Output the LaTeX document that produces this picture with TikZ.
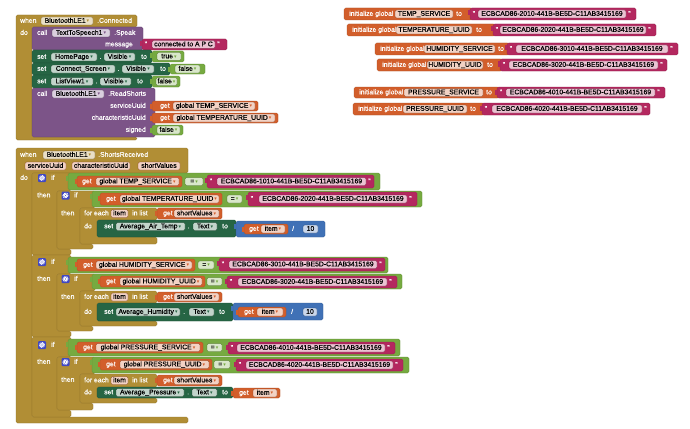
\documentclass[tikz,border=0pt]{standalone}
\usepackage{fontspec}
\setmainfont{Liberation Sans}
\newfontfamily\blkfam[AutoFakeBold=0.45]{Liberation Sans}
\newfontfamily\symfont{DejaVu Sans}

\definecolor{ctrl}{RGB}{177,142,53}
\definecolor{proc}{RGB}{124,84,136}
\definecolor{setc}{RGB}{38,101,68}
\definecolor{logic}{RGB}{118,170,64}
\definecolor{var}{RGB}{210,94,43}
\definecolor{txt}{RGB}{180,40,95}
\definecolor{mth}{RGB}{64,113,182}
\definecolor{gearbg}{RGB}{64,72,196}

\newcommand\blkfont{\blkfam\bfseries\fontsize{6.8}{7}\selectfont}
\newcounter{lblno}
\newcounter{fldno}

\tikzset{
  blk/.style={fill=#1, draw=#1!80!black, line width=.3pt, rounded corners=1.5pt},
  lbl/.style={text=white, anchor=west, inner sep=0pt, font=\blkfont, text height=4.9pt, text depth=1.3pt},
  fld/.style={fill=#1!28!white, draw=#1!60!black, line width=.3pt, rounded corners=1.5pt,
    inner sep=0pt, minimum height=8pt, text=black, font=\blkfont, text height=4.9pt, text depth=1.3pt},
}

% blocks: colour, x1, y1, x2, y2 (pixels, y down)
\newcommand\blk[5]{\path[blk=#1] (#2,#3) rectangle (#4,#5);}
\newcommand\vblk[5]{\path[blk=#1] (#2,#3) rectangle (#4,#5);
  \fill[#1] ({#2-2.2},{#3+2.5}) rectangle ({#2+0.3},{#3+7.5});}
% C-shaped block: x0, ytop, xhead, yhead, xcol, ybar, ybot, xbar
\newcommand\cshape[8]{\path[blk=ctrl] (#1,#2) -- (#3,#2) -- (#3,#4) -- (#5,#4)
  -- (#5,#6) -- (#8,#6) -- (#8,#7) -- (#1,#7) -- cycle;}
% texts
\newcommand\lbl[3]{\stepcounter{lblno}\node[lbl] (lbl\arabic{lblno}) at ({#1},{#2}) {#3};}
\newcommand\rlbl[3]{\stepcounter{lblno}\node[lbl, anchor=east] (lbl\arabic{lblno}) at ({#1},{#2}) {#3};}
% fields: colour, x1, x2, y, text
\newcommand\fld[5]{\stepcounter{fldno}\node[fld=#1, minimum width={(#3-#2)*1pt}]
  (fld\arabic{fldno}) at ({(#2+#3)/2},{#4}) {#5};}
\newcommand\ddf[5]{\fld{#1}{#2}{#3}{#4}{#5\,{\color{#1}\symfont\fontsize{5}{5}\selectfont ▾}}}
% text block: x1, x2, y1, y2, field x1, field x2, text
\newcommand\strb[7]{\vblk{txt}{#1}{#3}{#2}{#4}
  \lbl{#1+2.5}{(#3+#4)/2}{"}
  \fld{txt}{#5}{#6}{(#3+#4)/2}{#7}
  \lbl{#6+2}{(#3+#4)/2}{"}}
% mutator gear
\newcommand\gear[2]{\fill[gearbg, rounded corners=1pt] ({#1-4},{#2-4}) rectangle ({#1+4},{#2+4});
  \draw[white, line width=1.3pt, dash pattern=on .7pt off .7pt] (#1,#2) circle (2.3pt);
  \draw[white, line width=.8pt] (#1,#2) circle (1.5pt);}

\begin{document}
\begin{tikzpicture}[x=1pt, y=-1pt]
  \fill[white] (0,0) rectangle (690,428);
  \useasboundingbox (0,0) rectangle (690,428);

  % --- when BluetoothLE1.Connected ---
  \cshape{16}{15}{137}{27}{32}{137}{140}{137}
  \lbl{20}{21}{when} \ddf{ctrl}{41}{93}{21}{BluetoothLE1} \lbl{97}{21}{.Connected}
  \lbl{20}{33}{do}
  \blk{proc}{32}{27}{143}{50}
  \lbl{37}{33}{call} \ddf{proc}{52}{110}{33}{TextToSpeech1} \lbl{114}{33}{.Speak}
  \rlbl{133}{44.5}{message}
  \strb{142}{227}{39}{50}{152}{215}{connected to A P C}
  \blk{setc}{32}{50}{152}{63}
  \lbl{37}{57}{set} \ddf{setc}{51}{97}{57}{HomePage} \lbl{99.5}{57}{.}
  \ddf{setc}{104}{135}{57}{Visible} \lbl{141}{57}{to}
  \vblk{logic}{152}{51}{184}{62} \ddf{logic}{157}{181}{56.5}{true}
  \blk{setc}{32}{63}{170}{75}
  \lbl{37}{69}{set} \ddf{setc}{51}{115}{69}{Connect\_Screen} \lbl{117.5}{69}{.}
  \ddf{setc}{122}{154}{69}{Visible} \lbl{160}{69}{to}
  \vblk{logic}{170}{64}{205}{74} \ddf{logic}{175}{200}{69}{false}
  \blk{setc}{32}{75}{152}{88}
  \lbl{37}{81.5}{set} \ddf{setc}{51}{93}{81.5}{ListView1} \lbl{95.5}{81.5}{.}
  \ddf{setc}{100}{131}{81.5}{Visible} \lbl{137}{81.5}{to}
  \vblk{logic}{152}{76}{180}{87} \ddf{logic}{156}{177}{81.5}{false}
  \blk{proc}{32}{88}{155}{137}
  \lbl{37}{94}{call} \ddf{proc}{52}{104}{94}{BluetoothLE1} \lbl{108}{94}{.ReadShorts}
  \rlbl{146}{106}{serviceUuid} \rlbl{146}{118}{characteristicUuid} \rlbl{146}{130}{signed}
  \vblk{var}{152}{101}{258}{111} \lbl{160}{106}{get} \ddf{var}{173}{255}{106}{global TEMP\_SERVICE}
  \vblk{var}{152}{113}{278}{123} \lbl{160}{118}{get} \ddf{var}{173}{275}{118}{global TEMPERATURE\_UUID}
  \vblk{logic}{152}{125}{183}{135} \ddf{logic}{157}{180}{130}{false}

  % --- global variables ---
  \blk{var}{344}{8}{472}{20} \lbl{349}{14}{initialize global}
  \fld{var}{395}{453}{14}{TEMP\_SERVICE} \lbl{456}{14}{to}
  \strb{470}{636}{8}{20}{478}{626}{ECBCAD86-2010-441B-BE5D-C11AB3415169}
  \blk{var}{347}{24}{495}{36} \lbl{352}{30}{initialize global}
  \fld{var}{396}{472}{30}{TEMPERATURE\_UUID} \lbl{476}{30}{to}
  \strb{493}{656}{24}{36}{500}{646}{ECBCAD86-2020-441B-BE5D-C11AB3415169}
  \blk{var}{375}{43}{509}{55} \lbl{380}{49}{initialize global}
  \fld{var}{424}{495}{49}{HUMIDITY\_SERVICE} \lbl{498}{49}{to}
  \strb{507}{678}{43}{55}{516}{668}{ECBCAD86-3010-441B-BE5D-C11AB3415169}
  \blk{var}{377}{59}{502}{71} \lbl{382}{65}{initialize global}
  \fld{var}{427}{483}{65}{HUMIDITY\_UUID} \lbl{487}{65}{to}
  \strb{500}{667}{59}{71}{509}{658}{ECBCAD86-3020-441B-BE5D-C11AB3415169}
  \blk{var}{354}{87}{499}{98} \lbl{359}{92.5}{initialize global}
  \fld{var}{404}{483}{92.5}{PRESSURE\_SERVICE} \lbl{486}{92.5}{to}
  \strb{497}{665}{87}{98}{506}{655}{ECBCAD86-4010-441B-BE5D-C11AB3415169}
  \blk{var}{353}{103}{484}{115} \lbl{358}{109}{initialize global}
  \fld{var}{403}{467}{109}{PRESSURE\_UUID} \lbl{470}{109}{to}
  \strb{482}{650}{103}{115}{492}{642}{ECBCAD86-4020-441B-BE5D-C11AB3415169}

  % --- when BluetoothLE1.ShortsReceived ---
  \cshape{16}{148}{188}{173}{32}{417}{423}{188}
  \cshape{32}{173}{71}{191}{57}{249}{255}{71}
  \cshape{32}{255}{71}{274}{57}{331}{337}{71}
  \cshape{32}{337}{71}{357}{57}{410}{417}{71}
  \cshape{57}{191}{95}{208}{80}{244}{249}{93}
  \cshape{57}{274}{95}{291}{80}{326}{331}{93}
  \cshape{57}{357}{95}{374}{80}{403}{410}{93}
  \cshape{80}{208}{157}{220}{97}{237}{244}{157}
  \cshape{80}{291}{157}{303}{97}{321}{326}{157}
  \cshape{80}{374}{157}{387}{97}{398}{403}{157}
  \lbl{20}{155}{when} \ddf{ctrl}{43}{95}{155}{BluetoothLE1} \lbl{98}{155}{.ShortsReceived}
  \fld{var}{25}{66}{166}{serviceUuid} \fld{var}{72}{130}{166}{characteristicUuid}
  \fld{var}{138}{180}{166}{shortValues}
  \lbl{20}{178}{do}

  % temperature
  \gear{42}{178} \lbl{51}{178}{if} \lbl{37}{195.5}{then}
  \gear{65.5}{195.5} \lbl{74}{195.5}{if} \lbl{61}{213.5}{then}
  \vblk{logic}{68}{173}{380}{190}
  \vblk{var}{77}{176}{182}{187} \lbl{82}{181.5}{get} \ddf{var}{96}{179}{181.5}{global TEMP\_SERVICE}
  \ddf{logic}{185}{203}{181.5}{=}
  \strb{207}{374}{175}{188}{217}{366}{ECBCAD86-1010-441B-BE5D-C11AB3415169}
  \vblk{logic}{92}{191}{422}{207}
  \vblk{var}{100}{193}{222}{205} \lbl{106}{199}{get} \ddf{var}{120}{219}{199}{global TEMPERATURE\_UUID}
  \ddf{logic}{227}{242}{199}{=}
  \strb{248}{417}{192}{206}{259}{407}{ECBCAD86-2020-441B-BE5D-C11AB3415169}
  \lbl{84}{213.5}{for each} \fld{var}{111}{128}{213.5}{item} \lbl{132}{213.5}{in list}
  \vblk{var}{157}{208}{222}{219} \lbl{163}{213.5}{get} \ddf{var}{174}{219}{213.5}{shortValues}
  \lbl{84}{226.5}{do}
  \blk{setc}{97}{220}{236}{237}
  \lbl{104}{226.5}{set} \ddf{setc}{116}{185}{226.5}{Average\_Air\_Temp} \lbl{187.5}{226.5}{.}
  \ddf{setc}{193}{217}{226.5}{Text} \lbl{222}{226.5}{to}
  \vblk{mth}{236}{221}{325}{237}
  \vblk{var}{244}{224}{288}{234} \lbl{249}{229}{get} \ddf{var}{261}{285}{229}{item}
  \lbl{292}{229}{/} \fld{mth}{303}{318}{229}{10}

  % humidity
  \gear{42}{262} \lbl{51}{262}{if} \lbl{37}{279}{then}
  \gear{65.5}{279} \lbl{74}{279}{if} \lbl{61}{297}{then}
  \vblk{logic}{68}{257}{388}{273}
  \vblk{var}{77}{259}{195}{271} \lbl{83}{265}{get} \ddf{var}{96}{192}{265}{global HUMIDITY\_SERVICE}
  \ddf{logic}{198}{214}{265}{=}
  \strb{219}{385}{258}{271}{229}{377}{ECBCAD86-3010-441B-BE5D-C11AB3415169}
  \vblk{logic}{92}{274}{402}{289}
  \vblk{var}{100}{276}{205}{287} \lbl{106}{281.5}{get} \ddf{var}{120}{202}{281.5}{global HUMIDITY\_UUID}
  \ddf{logic}{207}{222}{281.5}{=}
  \strb{227}{397}{276}{288}{238}{387}{ECBCAD86-3020-441B-BE5D-C11AB3415169}
  \lbl{84}{297}{for each} \fld{var}{111}{128}{297}{item} \lbl{132}{297}{in list}
  \vblk{var}{157}{292}{222}{302} \lbl{163}{297}{get} \ddf{var}{174}{219}{297}{shortValues}
  \lbl{84}{312}{do}
  \blk{setc}{97}{303}{233}{321}
  \lbl{104}{312}{set} \ddf{setc}{116}{180}{312}{Average\_Humidity} \lbl{183}{312}{.}
  \ddf{setc}{189}{214}{312}{Text} \lbl{219}{312}{to}
  \vblk{mth}{233}{303}{323}{320}
  \vblk{var}{238}{307}{286}{317} \lbl{244}{312}{get} \ddf{var}{257}{283}{312}{item}
  \lbl{291}{312}{/} \fld{mth}{303}{317}{312}{10}

  % pressure
  \gear{42}{345} \lbl{51}{345}{if} \lbl{37}{362}{then}
  \gear{65.5}{362} \lbl{74}{362}{if} \lbl{61}{380}{then}
  \vblk{logic}{68}{339}{400}{356}
  \vblk{var}{77}{342}{203}{353} \lbl{83}{347.5}{get} \ddf{var}{96}{200}{347.5}{global PRESSURE\_SERVICE}
  \ddf{logic}{207}{222}{347.5}{=}
  \strb{228}{395}{342}{354}{237}{385}{ECBCAD86-4010-441B-BE5D-C11AB3415169}
  \vblk{logic}{92}{357}{409}{373}
  \vblk{var}{100}{359}{212}{370} \lbl{106}{364.5}{get} \ddf{var}{120}{209}{364.5}{global PRESSURE\_UUID}
  \ddf{logic}{214}{230}{364.5}{=}
  \strb{236}{403}{359}{371}{246}{393}{ECBCAD86-4020-441B-BE5D-C11AB3415169}
  \lbl{84}{380.5}{for each} \fld{var}{111}{128}{380.5}{item} \lbl{132}{380.5}{in list}
  \vblk{var}{157}{375}{222}{386} \lbl{163}{380.5}{get} \ddf{var}{174}{219}{380.5}{shortValues}
  \lbl{84}{392.5}{do}
  \blk{setc}{97}{387}{233}{398}
  \lbl{104}{392.5}{set} \ddf{setc}{116}{184}{392.5}{Average\_Pressure} \lbl{187}{392.5}{.}
  \ddf{setc}{192}{217}{392.5}{Text} \lbl{222}{392.5}{to}
  \vblk{var}{233}{388}{280}{398} \lbl{239}{393}{get} \ddf{var}{253}{277}{393}{item}
\end{tikzpicture}
\end{document}
